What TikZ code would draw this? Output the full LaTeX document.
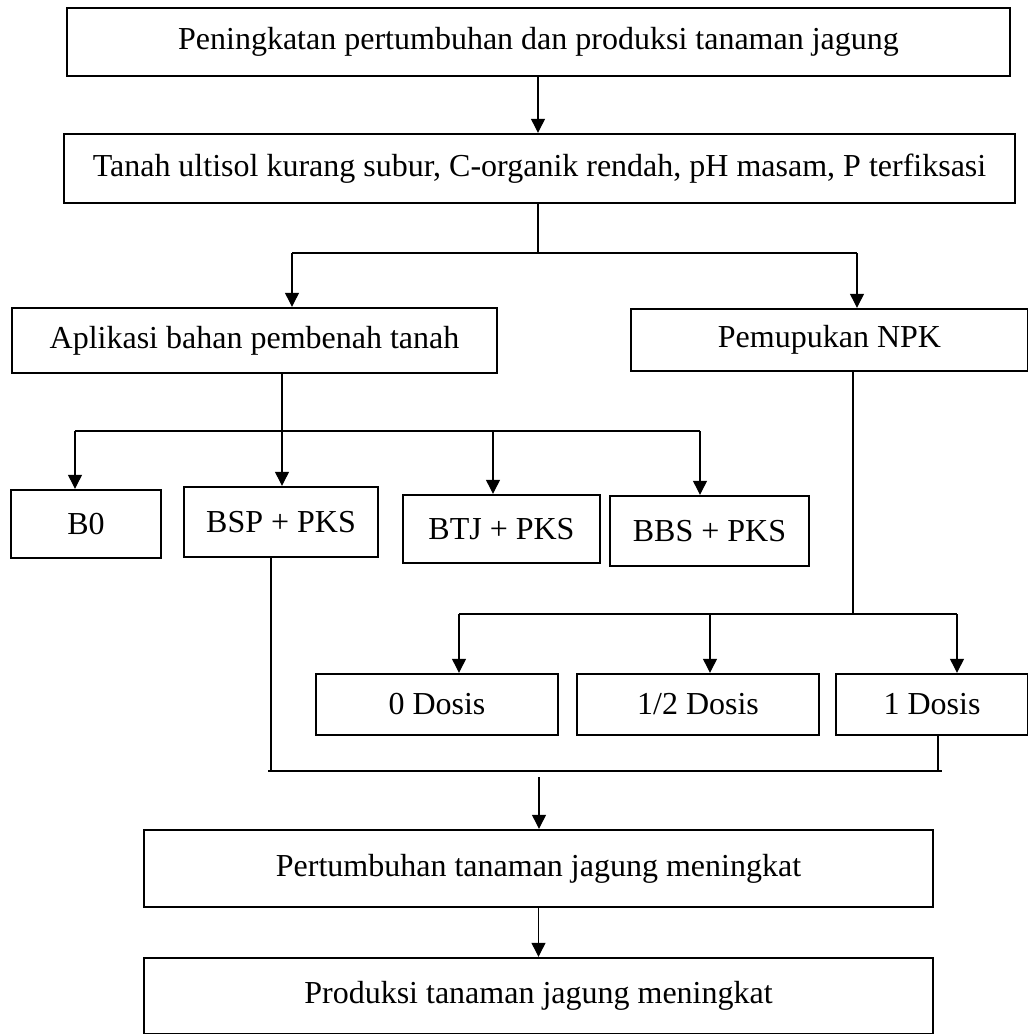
\documentclass[tikz,border=0pt]{standalone}
\usepackage{fontspec}
\setmainfont{Liberation Serif}
\usetikzlibrary{arrows.meta}
\begin{document}
\begin{tikzpicture}[x=1pt,y=-1pt,
  box/.style={draw, line width=2.4pt, inner sep=0pt, align=center,
    font=\fontsize{32}{38}\selectfont},
  conn/.style={line width=1.2pt},
  arr/.style={conn, -{Triangle[length=14pt,width=14pt]}}]
\useasboundingbox (0,0) rectangle (1028,1034);
% boxes
\node[box, minimum width=943pt, minimum height=68pt] (b1) at (538.5,42) {Peningkatan pertumbuhan dan produksi tanaman jagung};
\node[box, minimum width=951pt, minimum height=69pt] (b2) at (539.5,168.5) {Tanah ultisol kurang subur, C-organik rendah, pH masam, P terfiksasi};
\node[box, minimum width=485pt, minimum height=65pt] (b3) at (254.5,340.5) {Aplikasi bahan pembenah tanah};
\node[box, minimum width=397pt, minimum height=62pt] (b4) at (829.5,340) {Pemupukan NPK};
\node[box, minimum width=150pt, minimum height=68pt] (b5) at (86,524) {B0};
\node[box, minimum width=194pt, minimum height=70pt] (b6) at (281,522) {BSP + PKS};
\node[box, minimum width=197pt, minimum height=68pt] (b7) at (501.5,529) {BTJ + PKS};
\node[box, minimum width=199pt, minimum height=70pt] (b8) at (709.5,531) {BBS + PKS};
\node[box, minimum width=242pt, minimum height=61pt] (b9) at (437,704.5) {0 Dosis};
\node[box, minimum width=242pt, minimum height=61pt] (b10) at (698,704.5) {1/2 Dosis};
\node[box, minimum width=192pt, minimum height=61pt] (b11) at (932,704.5) {1 Dosis};
\node[box, minimum width=789pt, minimum height=77pt] (b12) at (538.5,868.5) {Pertumbuhan tanaman jagung meningkat};
\node[box, minimum width=789pt, minimum height=76pt] (b13) at (538.5,996) {Produksi tanaman jagung meningkat};
% junction points
\coordinate (j1) at (538,253);
\coordinate (j1l) at (292,253);
\coordinate (j1r) at (857,253);
\coordinate (j2l) at (75,431);
\coordinate (j2b) at (493,431);
\coordinate (j2r) at (700,431);
\coordinate (j3) at (853,614);
\coordinate (j3l) at (459,614);
\coordinate (j3m) at (710,614);
\coordinate (j3r) at (957,614);
\coordinate (j4l) at (271,771);
\coordinate (j4r) at (938,771);
\coordinate (j5) at (539,777);
% connectors
\draw[arr] (538,0 |- b1.south) -- (538,0 |- b2.north);
\draw[conn] (b2.south -| j1) -- (j1);
\draw[conn] (j1l) -- (j1r);
\draw[arr] (j1l) -- (j1l |- b3.north);
\draw[arr] (j1r) -- (j1r |- b4.north);
\draw[arr] (282,0 |- b3.south) -- (282,0 |- b6.north);
\draw[conn] (j2l) -- (j2r);
\draw[arr] (j2l) -- (j2l |- b5.north);
\draw[arr] (j2b) -- (j2b |- b7.north);
\draw[arr] (j2r) -- (j2r |- b8.north);
\draw[conn] (b4.south -| j3) -- (j3);
\draw[conn] (j3l) -- (j3r);
\draw[arr] (j3l) -- (j3l |- b9.north);
\draw[arr] (j3m) -- (j3m |- b10.north);
\draw[arr] (j3r) -- (j3r |- b11.north);
\draw[conn] (j4l |- b6.south) -- (j4l);
\draw[conn] (j4r |- b11.south) -- (j4r);
\draw[conn] ([xshift=-3pt]j4l) -- ([xshift=4pt]j4r);
\draw[arr] (j5) -- (j5 |- b12.north);
\draw[arr] (538.5,0 |- b12.south) -- (538.5,0 |- b13.north);
\end{tikzpicture}
\end{document}
